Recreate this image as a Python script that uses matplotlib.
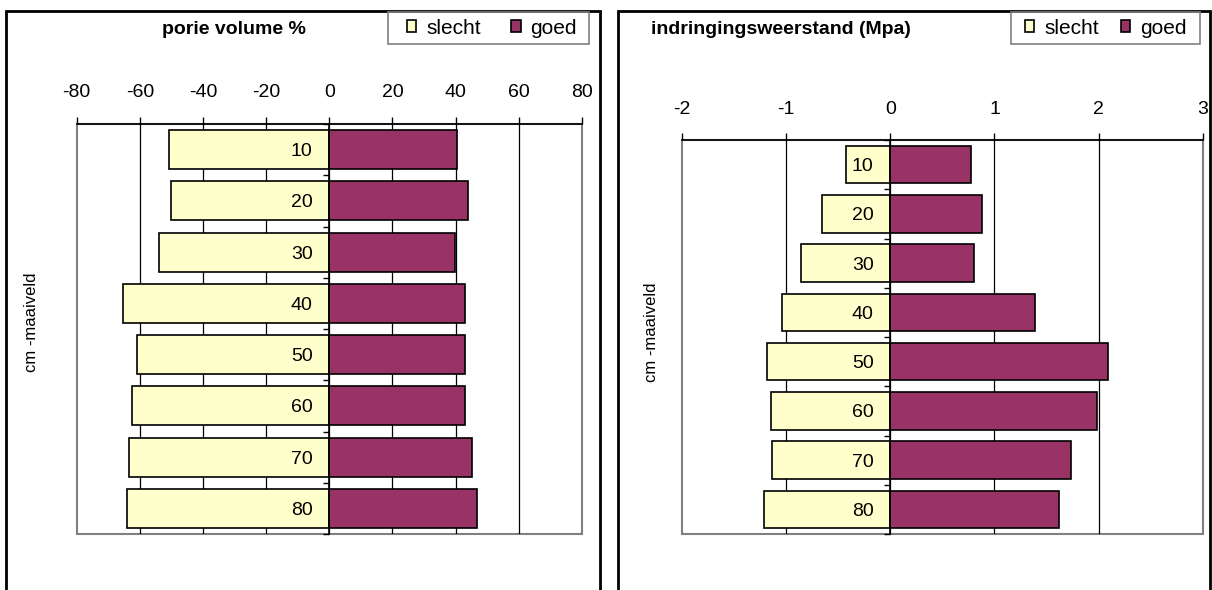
import matplotlib.pyplot as plt
from matplotlib.patches import Rectangle

plt.rcParams['font.family'] = ['Liberation Sans', 'DejaVu Sans']
plt.rcParams['axes.unicode_minus'] = False

W, H = 1212, 590

# data
depth = ['10', '20', '30', '40', '50', '60', '70', '80']

porie_slecht = [-50.8, -50.2, -54.0, -65.2, -60.9, -62.5, -63.4, -64.0]
porie_goed = [40.3, 44.0, 39.8, 43.0, 43.0, 43.0, 45.1, 46.7]

indring_slecht = [-0.42, -0.65, -0.86, -1.04, -1.18, -1.14, -1.13, -1.21]
indring_goed = [0.77, 0.88, 0.80, 1.39, 2.09, 1.98, 1.73, 1.62]

porie_ticks = [-80, -60, -40, -20, 0, 20, 40, 60, 80]
indring_ticks = [-2, -1, 0, 1, 2, 3]

geel = '#FFFFCC'
paars = '#993366'


# pixel box (origin top left) -> figure fractions
def px(x0, y0, x1, y1):
    return [x0 / W, 1 - y1 / H, (x1 - x0) / W, (y1 - y0) / H]


def box_patch(fig, x0, y0, x1, y1, color, lw):
    r = px(x0, y0, x1, y1)
    fig.add_artist(Rectangle((r[0], r[1]), r[2], r[3], transform=fig.transFigure,
                             fill=False, ec=color, lw=lw))


def panel(fig, box, slecht, goed, ticks, title, title_x, frame, legbox, leg_x, colspace,
          label_x, label_y, tick_pad):
    # outer chart frame (bottom edge falls outside the picture)
    box_patch(fig, frame[0], 10.7, frame[1], 600, 'black', 2)

    ax = fig.add_axes(px(*box))
    y = range(len(depth))
    b1 = ax.barh(y, slecht, height=0.76, color=geel, edgecolor='black', lw=1.2, zorder=1)
    b2 = ax.barh(y, goed, height=0.76, color=paars, edgecolor='black', lw=1.2, zorder=1)

    ax.set_xlim(ticks[0], ticks[-1])
    ax.set_ylim(len(depth) - 0.5, -0.5)

    # gridlines under the bars
    for t in ticks[1:-1]:
        ax.axvline(t, color='black', lw=0.9, zorder=0.8)

    # plot area border
    ax.add_patch(Rectangle((0, 0), 1, 1, transform=ax.transAxes, fill=False,
                           ec='#808080', lw=1.5, zorder=0.5, clip_on=False))
    ax.spines['right'].set_visible(False)
    ax.spines['bottom'].set_visible(False)
    ax.spines['top'].set_linewidth(1.2)
    ax.spines['left'].set_position(('data', 0))
    ax.spines['left'].set_linewidth(1.2)

    ax.xaxis.tick_top()
    ax.set_xticks(ticks)
    ax.set_xticklabels([str(t) for t in ticks])
    ax.tick_params(axis='x', direction='out', length=5, width=1, pad=tick_pad, labelsize=14)

    ax.set_yticks(list(y))
    ax.set_yticklabels(depth)
    ax.set_yticks([i - 0.5 for i in range(len(depth) + 1)], minor=True)
    ax.tick_params(axis='y', which='major', length=0, pad=12, labelsize=14)
    ax.tick_params(axis='y', which='minor', length=4.3, width=1, direction='out')

    fig.text(title_x / W, 1 - 30 / H, title, ha='center', va='center',
             fontsize=14, fontweight='bold')
    fig.text(label_x / W, 1 - label_y / H, 'cm -maaiveld', rotation=90,
             ha='center', va='center', fontsize=12)

    # legend: own frame, entries placed inside it
    box_patch(fig, legbox[0], 12, legbox[1], 44, '#808080', 1.2)
    fig.legend([b1, b2], ['slecht', 'goed'], loc='center left',
               bbox_to_anchor=(leg_x / W, 1 - 28 / H), ncol=2, frameon=False,
               borderaxespad=0, borderpad=0, handlelength=0.45, handleheight=0.45,
               handletextpad=0.48, columnspacing=colspace, fontsize=15)
    return ax


fig = plt.figure(figsize=(W / 100, H / 100), dpi=100)

panel(fig, (76.7, 124, 581.9, 534), porie_slecht, porie_goed, porie_ticks,
      'porie volume %', 233.5, (6, 600), (388, 589), 407, 1.45, 32, 322, 11.5)
panel(fig, (681.7, 140, 1203, 534), indring_slecht, indring_goed, indring_ticks,
      'indringingsweerstand (Mpa)', 781, (618, 1210), (1011, 1200), 1025, 1.05, 652, 332, 10.5)

fig.savefig('out.png', dpi=100)
